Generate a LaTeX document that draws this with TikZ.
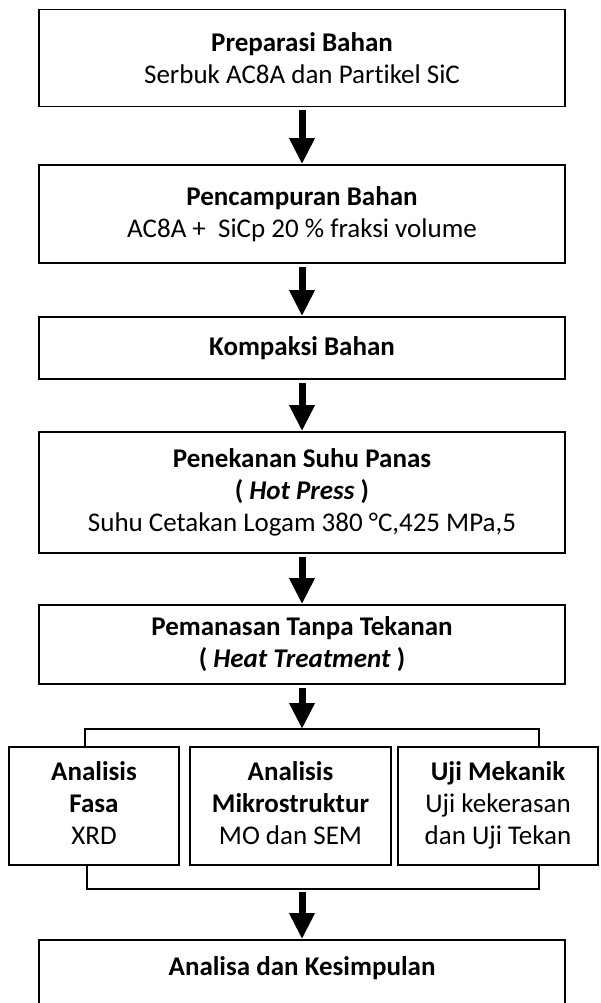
\documentclass[tikz,border=0pt]{standalone}
\usepackage{fontspec}
\setmainfont{Carlito}[Ligatures=NoCommon]
\usetikzlibrary{arrows.meta}
\begin{document}
\begin{tikzpicture}[x=1pt,y=-1pt,
  box/.style={draw,line width=1.8pt,rectangle,align=center,inner sep=0pt,
    font=\fontsize{27}{32}\selectfont},
  flow/.style={line width=7pt,-{Triangle[width=24pt,length=26pt]},shorten <=3pt},
  link/.style={line width=1.8pt}]
\useasboundingbox (0,0) rectangle (601,1003);
\clip (0,0) rectangle (601,1003);
\node[box,minimum width=526pt,minimum height=97pt] (b1) at (302,58)
  {\textbf{Preparasi Bahan}\\Serbuk AC8A dan Partikel SiC};
\node[box,minimum width=526pt,minimum height=98pt] (b2) at (302,214)
  {\textbf{Pencampuran Bahan}\\AC8A + \ SiCp 20 \% fraksi volume};
\node[box,minimum width=526pt,minimum height=62pt] (b3) at (302,348)
  {\textbf{Kompaksi Bahan}};
\node[box,minimum width=526pt,minimum height=121pt] (b4) at (302,492.5)
  {\textbf{Penekanan Suhu Panas}\\\textbf{( \textit{Hot Press} )}\\Suhu Cetakan Logam 380 °C,425 MPa,5};
\node[box,minimum width=526pt,minimum height=79pt] (b5) at (302,644.5)
  {\textbf{Pemanasan Tanpa Tekanan}\\\textbf{( \textit{Heat Treatment} )}};
\node[box,minimum width=170pt,minimum height=118pt] (c1) at (94,806)
  {\strut\textbf{Analisis}\\\textbf{Fasa}\\XRD\strut};
\node[box,minimum width=201pt,minimum height=118pt] (c2) at (290.5,806)
  {\strut\textbf{Analisis}\\\textbf{Mikrostruktur}\\MO dan SEM\strut};
\node[box,minimum width=200pt,minimum height=118pt] (c3) at (498,806)
  {\strut\textbf{Uji Mekanik}\\Uji kekerasan\\dan Uji Tekan\strut};
\node[box,minimum width=526pt,minimum height=70pt,text height=18pt,text depth=18pt] (b6) at (302,975)
  {\textbf{Analisa dan Kesimpulan}};
\coordinate (tl) at (85,729);
\coordinate (tr) at (539,729);
\coordinate (tm) at (302,729);
\coordinate (bl) at (87,889);
\coordinate (br) at (539,889);
\coordinate (bm) at (302,889);
\draw[flow] (b1.south) -- (b2.north);
\draw[flow] (b2.south) -- (b3.north);
\draw[flow] (b3.south) -- (b4.north);
\draw[flow] (b4.south) -- (b5.north);
\draw[flow] (b5.south) -- (tm);
\draw[link] (c1.north -| tl) -- (tl) -- (tr) -- (c3.north -| tr);
\draw[link] (c1.south -| bl) -- (bl) -- (br) -- (c3.south -| br);
\draw[flow] (bm) -- (b6.north);
\end{tikzpicture}
\end{document}
